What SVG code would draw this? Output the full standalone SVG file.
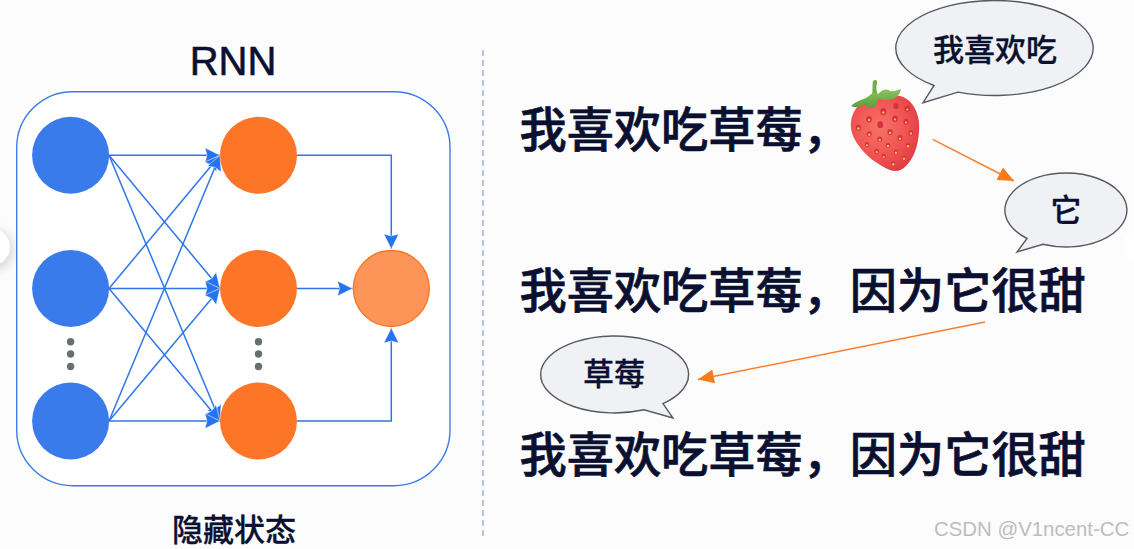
<svg xmlns="http://www.w3.org/2000/svg" width="1134" height="549" viewBox="0 0 1134 549">
<defs>
<style>
.cjk{font-family:"Noto Sans CJK SC","Noto Sans",sans-serif;fill:#0b1030;stroke:#0b1030}
.line{font-size:47.2px;font-weight:500;stroke-width:.7}
.say{font-size:31px;font-weight:500;text-anchor:middle;stroke-width:.3}
.blue{fill:#3a7bec}
.org{fill:#fd7628}
.dot{fill:#667070}
.link{fill:none;stroke:#2f76ea;stroke-width:1.5;marker-end:url(#ah)}
.hot{fill:none;stroke:#fb7f2a;stroke-width:1.5;marker-end:url(#oh)}
.bub{fill:#eff1f5;stroke:#555a60;stroke-width:1.4}
.seed{fill:#d5323c}
.pip{fill:#f7c245}
</style>
<marker id="ah" viewBox="0 0 16 16" refX="15.5" refY="8" markerWidth="16" markerHeight="16" markerUnits="userSpaceOnUse" orient="auto"><path d="M.5,.5L15.5,8L.5,15.5L2.5,8Z" fill="#2673f0" stroke="#fff" stroke-width=".5"/></marker>
<marker id="oh" viewBox="0 0 16 14" refX="16" refY="7" markerWidth="16" markerHeight="14" markerUnits="userSpaceOnUse" orient="auto"><path d="M0,0L16,7L0,14Z" fill="#fb7a1c"/></marker>
<radialGradient id="berry" cx="0.42" cy="0.42" r="0.72"><stop offset="0" stop-color="#f9736b"/><stop offset="0.6" stop-color="#ee4f50"/><stop offset="1" stop-color="#d8343d"/></radialGradient>
<linearGradient id="leaf" x1="0" y1="0" x2="0" y2="1"><stop offset="0" stop-color="#8bc45c"/><stop offset="1" stop-color="#5a9e3c"/></linearGradient>
<filter id="soft" x="-60%" y="-60%" width="220%" height="220%"><feGaussianBlur stdDeviation="5"/></filter>
</defs>
<rect width="1134" height="549" fill="#fcfcfc"/>
<g id="edge-tabs">
<circle cx="-7" cy="250" r="21" fill="#dcdcdc" filter="url(#soft)"/>
<circle cx="-8" cy="247" r="18" fill="#fff"/>
<circle cx="1142" cy="247" r="18" fill="#fff"/>
</g>
<g id="frame"><rect x="16.7" y="91.7" width="433.3" height="394" rx="56" ry="56" fill="#fff" stroke="#3a7de8" stroke-width="1.4"/></g>
<text id="title" x="233" y="75" text-anchor="middle" font-family="Liberation Sans,Arial,sans-serif" font-size="40" fill="#0b1030" stroke="#0b1030" stroke-width=".6">RNN</text>
<text id="caption" class="cjk" x="234" y="541" text-anchor="middle" font-size="31" font-weight="500" stroke-width=".3">隐藏状态</text>
<line id="divider" x1="483" y1="50" x2="483" y2="540" stroke="#8fa6d2" stroke-width="1.3" stroke-dasharray="6 4"/>
<g id="connectors">
<path class="link" d="M109,155.3H220"/>
<path class="link" d="M109,155.3L220,288.5"/>
<path class="link" d="M109,155.3L220,421"/>
<path class="link" d="M109,288.5L220,155.3"/>
<path class="link" d="M109,288.5H220"/>
<path class="link" d="M109,288.5L220,421"/>
<path class="link" d="M109,421L220,155.3"/>
<path class="link" d="M109,421L220,288.5"/>
<path class="link" d="M109,421H220"/>
<path class="link" d="M297,155.3H391.3V249"/>
<path class="link" d="M297,288.5H352.5"/>
<path class="link" d="M297,421H391.3V328"/>
<path class="hot" d="M932.7,139.3L1014,181"/>
<path class="hot" d="M985,322L698,379.5"/>
</g>
<g id="input-1"><circle class="blue" cx="70.6" cy="155.3" r="38.5"/></g>
<g id="input-2"><circle class="blue" cx="70.6" cy="288.5" r="38.5"/></g>
<g id="input-3"><circle class="blue" cx="70.6" cy="421" r="38.5"/></g>
<g id="hidden-1"><circle class="org" cx="258.5" cy="155.3" r="38.5"/></g>
<g id="hidden-2"><circle class="org" cx="258.5" cy="288.5" r="38.5"/></g>
<g id="hidden-3"><circle class="org" cx="258.5" cy="421" r="38.5"/></g>
<g id="output"><circle cx="391.3" cy="288.5" r="38" fill="#fd9458" stroke="#f9741f" stroke-width="1.3"/></g>
<g id="dots-left"><circle class="dot" cx="70.6" cy="341.7" r="3.7"/><circle class="dot" cx="70.6" cy="354" r="3.7"/><circle class="dot" cx="70.6" cy="366.5" r="3.7"/></g>
<g id="dots-mid"><circle class="dot" cx="258.5" cy="341.7" r="3.7"/><circle class="dot" cx="258.5" cy="354" r="3.7"/><circle class="dot" cx="258.5" cy="366.5" r="3.7"/></g>
<g id="sentence-1"><text class="cjk line" x="519.5" y="147">我喜欢吃草莓，</text></g>
<g id="sentence-2"><text class="cjk line" x="519.5" y="308">我喜欢吃草莓，因为它很甜</text></g>
<g id="sentence-3"><text class="cjk line" x="519.5" y="472">我喜欢吃草莓，因为它很甜</text></g>
<g id="bubble-1"><path class="bub" d="M958,92.1A98.7,47.5 0 1 0 934,85.5L923,102.7Z"/><text class="cjk say" x="995" y="61">我喜欢吃</text></g>
<g id="bubble-2"><path class="bub" d="M1043,244.3A61,37 0 1 0 1027,238.5L1017,252Z"/><text class="cjk say" x="1066" y="221">它</text></g>
<g id="bubble-3"><path class="bub" d="M663,403.6A74,38.5 0 1 0 644,409.8L673,418Z"/><text class="cjk say" x="614" y="385">草莓</text></g>
<g id="strawberry">
<path d="M880,97C892,94 905,94 912,104C918,112 920,122 919,132C918,146 914,158 906,166C901,171 896,172 890,170C878,165 866,156 859,146C853,138 850,130 851,122C852,112 858,104 866,100Z" fill="url(#berry)"/>
<path d="M872,95C873,90 872,85 873,81C875,79 878,80 877,83C876,87 876,91 878,95Z" fill="#6fae47"/>
<path d="M851,106C857,100 864,100 869,96C873,92 876,93 878,94C882,90 886,88 890,91C894,92 897,90 901,89C900,94 897,98 892,99C886,101 881,100 878,98C878,103 875,108 871,108C868,108 866,105 864,104C860,108 855,108 851,106Z" fill="url(#leaf)"/>
<g><ellipse class="seed" cx="883.3" cy="111.7" rx="3" ry="3.6"/><ellipse class="seed" cx="896" cy="106" rx="2.6" ry="3"/><ellipse class="seed" cx="907.3" cy="108.7" rx="2.8" ry="3"/><ellipse class="seed" cx="869" cy="119.3" rx="2.8" ry="3.2"/><ellipse class="seed" cx="895" cy="118.7" rx="2.8" ry="3.2"/><ellipse class="seed" cx="906" cy="121.7" rx="2.6" ry="3"/><ellipse class="seed" cx="858.3" cy="127.7" rx="2.6" ry="3"/><ellipse class="seed" cx="880.3" cy="124.7" rx="3" ry="3.4"/><ellipse class="seed" cx="890" cy="132.3" rx="2.6" ry="3"/><ellipse class="seed" cx="911" cy="132.7" rx="2.4" ry="2.8"/><ellipse class="seed" cx="869.3" cy="134" rx="2.4" ry="2.8"/><ellipse class="seed" cx="879.7" cy="139.3" rx="2.4" ry="2.8"/><ellipse class="seed" cx="900" cy="138" rx="2.6" ry="3"/><ellipse class="seed" cx="867" cy="144.7" rx="2.2" ry="2.6"/><ellipse class="seed" cx="888" cy="145.3" rx="2.2" ry="2.6"/><ellipse class="seed" cx="908" cy="145.7" rx="2.2" ry="2.6"/><ellipse class="seed" cx="876.7" cy="151.3" rx="2.2" ry="2.6"/><ellipse class="seed" cx="896" cy="152" rx="2.2" ry="2.6"/><ellipse class="seed" cx="883.7" cy="156.3" rx="2" ry="2.4"/><ellipse class="seed" cx="904" cy="158" rx="2" ry="2.4"/><ellipse class="seed" cx="893.3" cy="163.7" rx="2" ry="2.4"/></g>
<g><circle class="pip" cx="883.3" cy="112.5" r="1.2"/><circle class="pip" cx="907.3" cy="109.5" r="1.1"/><circle class="pip" cx="869" cy="120" r="1.2"/><circle class="pip" cx="895" cy="119.5" r="1.1"/><circle class="pip" cx="906" cy="122.5" r="1.1"/><circle class="pip" cx="858.3" cy="128.5" r="1.2"/><circle class="pip" cx="890" cy="133" r="1.2"/><circle class="pip" cx="911" cy="133.5" r="1.2"/><circle class="pip" cx="869.3" cy="134.7" r="1.2"/><circle class="pip" cx="879.7" cy="140" r="1.2"/><circle class="pip" cx="900" cy="138.7" r="1.2"/><circle class="pip" cx="867" cy="145.3" r="1.1"/><circle class="pip" cx="888" cy="146" r="1.2"/><circle class="pip" cx="908" cy="146.3" r="1.2"/><circle class="pip" cx="876.7" cy="152" r="1.1"/><circle class="pip" cx="896" cy="152.7" r="1.2"/><circle class="pip" cx="883.7" cy="157" r="1.1"/><circle class="pip" cx="904" cy="158.7" r="1.2"/><circle class="pip" cx="893.3" cy="164.3" r="1.2"/></g>
</g>
<text id="watermark" x="934" y="536" font-family="Liberation Sans,Arial,sans-serif" font-size="20.4" fill="#bdbdbd">CSDN @V1ncent-CC</text>
</svg>
